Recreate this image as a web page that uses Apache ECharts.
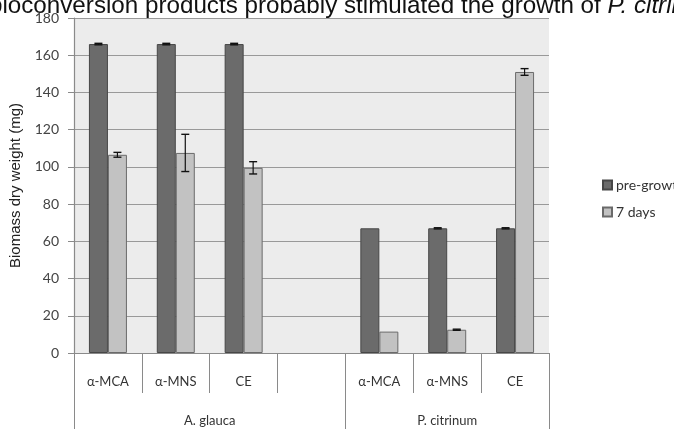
<!DOCTYPE html>
<html><head><meta charset="utf-8">
<script src="https://cdn.jsdelivr.net/npm/echarts@6/dist/echarts.min.js"></script>
<style>html,body{margin:0;padding:0;background:#fff}#c{width:674px;height:429px}</style>
</head><body><div id="c"></div>
<script>
const categories = ['α-MCA', 'α-MNS', 'CE', '', 'α-MCA', 'α-MNS', 'CE'];
const groupLabels = ['', '', '', '', 'A. glauca', '', '', '', '', '', '', 'P. citrinum', '', '', ''];
const preGrowth = [166, 166, 166, '-', 67, 67, 67];
const preGrowthErr = [0.4, 0.4, 0.4, 0, 0, 0.3, 0.3];
const sevenDays = [106.5, 107.5, 99.5, '-', 11.5, 12.5, 151];
const sevenDaysErr = [1.3, 10, 3.3, 0, 0, 0.3, 1.8];
const yTicks = {min: 0, max: 180, interval: 20};

const BW = 19;
function errData(vals, errs) {
  const out = [];
  vals.forEach((v, i) => { if (v !== '-' && errs[i] > 0) out.push([i, v, errs[i]]); });
  return out;
}
function errRender(offset) {
  return function (params, api) {
    const i = api.value(0), v = api.value(1), e = api.value(2);
    const hi = api.coord([i, v + e]), lo = api.coord([i, v - e]);
    const x = hi[0] + offset, cap = 4;
    return {
      type: 'group',
      children: [
        {type: 'line', shape: {x1: x, y1: hi[1], x2: x, y2: lo[1]}, style: {stroke: '#111', lineWidth: 1.2}},
        {type: 'line', shape: {x1: x - cap, y1: hi[1], x2: x + cap, y2: hi[1]}, style: {stroke: '#111', lineWidth: 1.4}},
        {type: 'line', shape: {x1: x - cap, y1: lo[1], x2: x + cap, y2: lo[1]}, style: {stroke: '#111', lineWidth: 1.4}}
      ]
    };
  };
}
const F = 'Lato, "Open Sans", sans-serif';
const chart = echarts.init(document.getElementById('c'), null, {renderer: 'canvas'});
chart.setOption({
  animation: false,
  title: {
    text: '{n|bioconversion products probably stimulated the growth of }{i|P. citrinum}',
    left: -16, top: -11,
    textStyle: {
      fontWeight: 'normal',
      rich: {
        n: {fontFamily: '"Liberation Sans", Arial, sans-serif', fontSize: 24.2, fontWeight: 'normal', color: '#111'},
        i: {fontFamily: '"Liberation Sans", Arial, sans-serif', fontSize: 24.2, fontWeight: 'normal', color: '#111', fontStyle: 'italic'}
      }
    }
  },
  legend: {
    orient: 'vertical', left: 597, top: 173, itemWidth: 9, itemHeight: 9, itemGap: 13,
    icon: 'rect',
    textStyle: {fontFamily: F, fontSize: 14, color: '#333', padding: [0, 0, 0, -1]},
    data: ['pre-growth', '7 days']
  },
  grid: {left: 74, right: 125, top: 18, bottom: 76, show: true, backgroundColor: '#ececec', borderWidth: 0},
  xAxis: [
    {
      type: 'category', data: categories, position: 'bottom',
      axisLine: {show: true, lineStyle: {color: '#8a8a8a', width: 1.2}},
      axisTick: {show: true, interval: 0, length: 40, lineStyle: {color: '#8a8a8a'}},
      axisLabel: {interval: 0, margin: 22, fontFamily: F, fontSize: 13, color: '#333'},
      splitLine: {show: false}
    },
    {
      type: 'category', data: groupLabels, position: 'bottom', boundaryGap: false,
      axisLine: {show: false},
      axisTick: {show: true, length: 80, interval: (i) => i === 0 || i === 8 || i === 14, lineStyle: {color: '#8a8a8a'}},
      axisLabel: {interval: (i) => i === 4 || i === 11, margin: 61, fontFamily: F, fontSize: 13, color: '#333'},
      splitLine: {show: false}
    }
  ],
  yAxis: {
    type: 'value', min: yTicks.min, max: yTicks.max, interval: yTicks.interval,
    name: 'Biomass dry weight (mg)', nameLocation: 'middle', nameGap: 49,
    nameTextStyle: {fontFamily: '"Liberation Sans", Arial, sans-serif', fontSize: 15, color: '#222'},
    axisLine: {show: true, lineStyle: {color: '#8a8a8a', width: 1.2}},
    axisTick: {show: true, length: 6, lineStyle: {color: '#8a8a8a'}},
    axisLabel: {margin: 15, fontFamily: F, fontSize: 14, color: '#444'},
    splitLine: {show: true, lineStyle: {color: '#999', width: 1.2}}
  },
  series: [
    {name: 'pre-growth', type: 'bar', data: preGrowth, barWidth: BW, barGap: '0%',
     itemStyle: {color: '#6b6b6b', borderColor: '#474747', borderWidth: 1}},
    {name: '7 days', type: 'bar', data: sevenDays, barWidth: BW, barGap: '0%',
     itemStyle: {color: '#c2c2c2', borderColor: '#6a6a6a', borderWidth: 1}},
    {type: 'custom', renderItem: errRender(-BW / 2), data: errData(preGrowth, preGrowthErr), z: 10, silent: true},
    {type: 'custom', renderItem: errRender(BW / 2), data: errData(sevenDays, sevenDaysErr), z: 10, silent: true}
  ]
});
</script></body></html>
